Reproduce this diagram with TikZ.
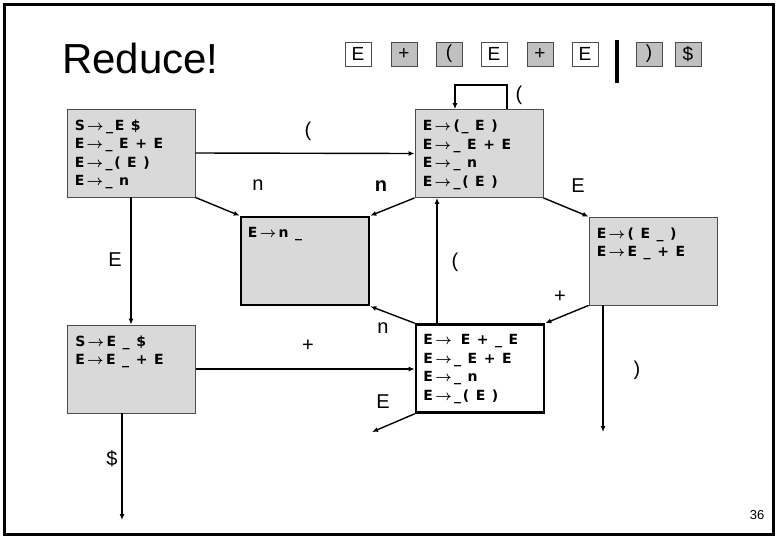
\documentclass[tikz,border=0pt]{standalone}
\usepackage{fontspec}
\setmainfont{Liberation Sans}
\newfontfamily\itemfont[LetterSpace=12]{DejaVu Sans}
\usetikzlibrary{positioning, arrows.meta}
\definecolor{boxgrey}{RGB}{217,217,217}
\definecolor{tokgrey}{RGB}{192,192,192}
\newcommand{\yields}{\,{\boldmath$\rightarrow$}\,}

\begin{document}
\begin{tikzpicture}[
    x=1pt, y=-1pt,
    state/.style={rectangle, draw=black!70, fill=boxgrey, line width=0.8pt, minimum width=128pt, minimum height=88pt, inner sep=0pt},
    active/.style={state, draw=black, line width=2.6pt},
    items/.style={anchor=north west, align=left, inner sep=0pt, font=\itemfont\bfseries\fontsize{14}{18.5}\selectfont},
    sym/.style={inner sep=0pt, font=\fontsize{20}{24}\selectfont},
    tok/.style={draw=black!70, minimum width=26pt, minimum height=24pt, inner sep=0pt, font=\fontsize{19}{21}\selectfont},
    edge/.style={line width=1.4pt, -{Latex[length=6pt, width=5pt]}}
]
    \useasboundingbox (0,0) rectangle (778,539);
    \draw[line width=3pt] (4.5,4.5) rectangle (773.5,534.5);

    % Titulo
    \node[anchor=base west, inner sep=0pt, font=\fontsize{42}{48}\selectfont] (title) at (62,73) {Reduce!};
    \node[font=\fontsize{13}{15}\selectfont] (page) at (757,515) {36};

    % Entrada
    \node[tok, fill=white] (k1) at (358,54) {E};
    \node[tok, fill=tokgrey] (k2) at (404,54) {+};
    \node[tok, fill=tokgrey] (k3) at (449,54) {(};
    \node[tok, fill=white] (k4) at (494,54) {E};
    \node[tok, fill=tokgrey] (k5) at (540,54) {+};
    \node[tok, fill=white] (k6) at (585,54) {E};
    \node[tok, fill=tokgrey] (k7) at (649,54) {)};
    \node[tok, fill=tokgrey] (k8) at (688,54) {\$};
    \draw[line width=4pt] (617,40) -- (617,83);

    % Estados
    \node[state] (s0) at (131,153) {};
    \node[state] (s1) at (479,153.5) {};
    \node[active] (s2) at (305,261) {};
    \node[state] (s3) at (653,261) {};
    \node[state] (s4) at (131.5,369) {};
    \node[active, fill=white] (s5) at (480,368.5) {};

    \node[items] (t0) at ([xshift=8pt, yshift=-11pt]s0.north west) {S\yields\_E \$\\E\yields\_ E + E\\E\yields\_( E )\\E\yields\_ n};
    \node[items] (t1) at ([xshift=8pt, yshift=-11pt]s1.north west) {E\yields(\_ E )\\E\yields\_ E + E\\E\yields\_ n\\E\yields\_( E )};
    \node[items] (t2) at ([xshift=8pt, yshift=-11pt]s2.north west) {E\yields n \_};
    \node[items] (t3) at ([xshift=8pt, yshift=-11pt]s3.north west) {E\yields( E \_ )\\E\yields E \_ + E};
    \node[items] (t4) at ([xshift=8pt, yshift=-11pt]s4.north west) {S\yields E \_ \$\\E\yields E \_ + E};
    \node[items] (t5) at ([xshift=8.5pt, yshift=-11pt]s5.north west) {E\yields\ E + \_ E\\E\yields\_ E + E\\E\yields\_ n\\E\yields\_( E )};

    % Saidas
    \coordinate (outE) at (372,432);
    \coordinate (outR) at (603,432);
    \coordinate (outD) at (122,520);

    % Arestas
    \draw[edge] (s0.east) -- (s1.west);
    \draw[edge] (s0.south) -- (s0.south |- s4.north);
    \draw[edge] (s0.south east) -- (s2.north west);
    \draw[edge] (s1.south west) -- (s2.north east);
    \draw[edge] (s1.south east) -- (s3.north west);
    \draw[edge] ([xshift=28pt]s1.north) -- ++(0,-24) -| ([xshift=-24pt]s1.north);
    \draw[edge] ([xshift=-43pt]s5.north) -- ([xshift=-43pt]s5.north |- s1.south);
    \draw[edge] (s3.south west) -- (s5.north east);
    \draw[edge] (s5.north west) -- (s2.south east);
    \draw[edge] (s4.east) -- (s4.east -| s5.west);
    \draw[edge] (s5.south west) -- (outE);
    \draw[edge] (s3.south -| outR) -- (outR);
    \draw[edge] (s4.south -| outD) -- (outD);

    % Rotulos
    \node[sym] (a1) at (308,131) {(};
    \node[sym] (a2) at (258,185) {n};
    \node[sym, font=\fontsize{20}{24}\selectfont\bfseries] (a3) at (381,186) {n};
    \node[sym] (a4) at (578,186) {E};
    \node[sym] (a5) at (519,95) {(};
    \node[sym] (a6) at (115,260) {E};
    \node[sym] (a7) at (455,262) {(};
    \node[sym] (a8) at (560,297) {+};
    \node[sym] (a9) at (383,328) {n};
    \node[sym] (a10) at (308,346) {+};
    \node[sym] (a11) at (383,402) {E};
    \node[sym] (a12) at (637,370) {)};
    \node[sym] (a13) at (112,459) {\$};
\end{tikzpicture}
\end{document}
